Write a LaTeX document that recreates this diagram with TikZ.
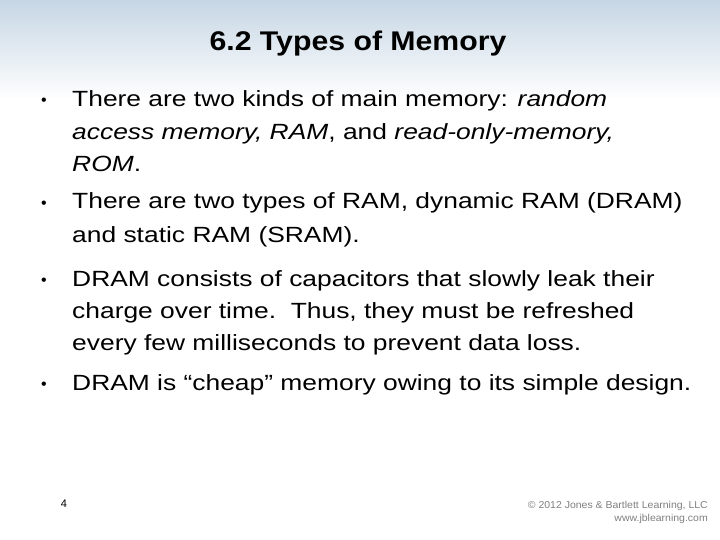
\documentclass[tikz,border=0pt]{standalone}
\usepackage{fontspec}
\setmainfont{Liberation Sans}
\newcommand{\widetxt}[1]{\scalebox{1.2}[1]{#1}}
\begin{document}
\begin{tikzpicture}[x=1pt,y=-1pt,
  ln/.style={anchor=base west,inner sep=0pt,font=\fontsize{22}{24}\selectfont},
  bul/.style={anchor=base west,inner sep=0pt,font=\fontsize{16}{24}\selectfont}]
\useasboundingbox (0,0) rectangle (720,540);
\fill[white] (0,0) rectangle (720,540);
\shade[top color={rgb,255:red,198;green,214;blue,228},bottom color=white] (0,0) rectangle (720,100);
\node[inner sep=0pt,anchor=base,font=\fontsize{27}{30}\selectfont\bfseries] (title) at (358,51) {\scalebox{1.12}[1]{6.2 Types of Memory}};
\node[bul] (b1) at (41,106) {•};
\node[ln] (l1a) at (72,107) {\widetxt{There are two kinds of main memory: \textit{random}}};
\node[ln] (l1b) at (72,140) {\widetxt{\textit{access memory, RAM}, and \textit{read-only-memory,}}};
\node[ln] (l1c) at (72,172) {\widetxt{\textit{ROM}.}};
\node[bul] (b2) at (41,208) {•};
\node[ln] (l2a) at (72,209) {\widetxt{There are two types of RAM, dynamic RAM (DRAM)}};
\node[ln] (l2b) at (72,242) {\widetxt{and static RAM (SRAM).}};
\node[bul] (b3) at (41,285) {•};
\node[ln] (l3a) at (72,286) {\widetxt{DRAM consists of capacitors that slowly leak their}};
\node[ln] (l3b) at (72,318) {\widetxt{charge over time.\ \ Thus, they must be refreshed}};
\node[ln] (l3c) at (72,350) {\widetxt{every few milliseconds to prevent data loss.}};
\node[bul] (b4) at (41,389) {•};
\node[ln] (l4a) at (72,390) {\widetxt{DRAM is “cheap” memory owing to its simple design.}};
\node[inner sep=0pt,font=\fontsize{11}{12}\selectfont] (pg) at (64,504) {4};
\node[inner sep=0pt,anchor=east,text=gray,font=\fontsize{10}{11}\selectfont] (c1) at (708,506) {\scalebox{1.05}[1]{© 2012 Jones \& Bartlett Learning, LLC}};
\node[inner sep=0pt,anchor=east,text=gray,font=\fontsize{10}{11}\selectfont] (c2) at (708,519) {\scalebox{1.05}[1]{www.jblearning.com}};
\end{tikzpicture}
\end{document}
